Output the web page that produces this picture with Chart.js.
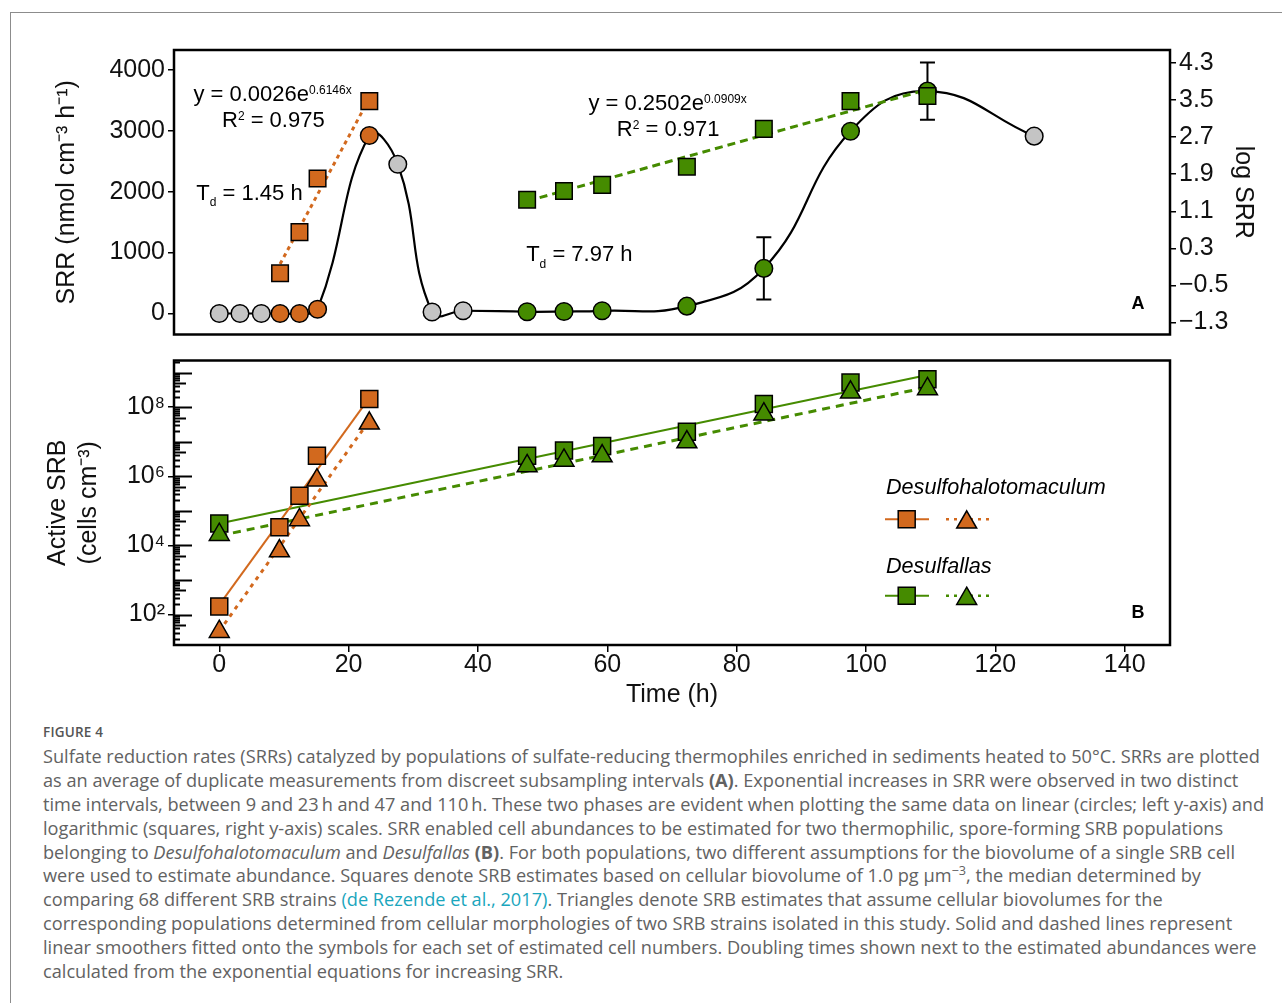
<!DOCTYPE html>
<html>
<head>
<meta charset="utf-8">
<title>Sulfate reduction rates and active SRB</title>
<script src="https://cdn.jsdelivr.net/npm/chart.js@4.4.1/dist/chart.umd.min.js"></script>
<style>
  html, body { margin: 0; padding: 0; background: #fff; }
  body { width: 1282px; height: 1003px; position: relative; overflow: hidden; }
  #frame { position: absolute; left: 10px; top: 12px; width: 1290px; height: 1000px;
           border-left: 1px solid #8c8c8c; border-top: 1px solid #8c8c8c; }
  canvas { position: absolute; left: 0; }
  #chartA { top: 0; }
  #chartB { top: 345px; }
  #caption { position: absolute; left: 43px; top: 721px; font-family: "Open Sans", sans-serif;
             color: #626262; font-size: 16.6px; line-height: 23.9px; white-space: nowrap; }
  #caption .fig { font-size: 13.5px; font-weight: 600; color: #555; letter-spacing: 0.2px; }
  #caption a { color: #1aa6bd; text-decoration: none; }
  #caption sup { font-size: 0.7em; line-height: 0; }
</style>
</head>
<body>
<div id="frame"></div>
<canvas id="chartA" width="1282" height="350"></canvas>
<canvas id="chartB" width="1282" height="370"></canvas>
<div id="caption">
  <div class="fig">FIGURE 4</div>
  <div id="line1">Sulfate reduction rates (SRRs) catalyzed by populations of sulfate-reducing thermophiles enriched in sediments heated to 50°C. SRRs are plotted</div>
  <div>as an average of duplicate measurements from discreet subsampling intervals <b>(A)</b>. Exponential increases in SRR were observed in two distinct</div>
  <div>time intervals, between 9 and 23&#8201;h and 47 and 110&#8201;h. These two phases are evident when plotting the same data on linear (circles; left y-axis) and</div>
  <div>logarithmic (squares, right y-axis) scales. SRR enabled cell abundances to be estimated for two thermophilic, spore-forming SRB populations</div>
  <div>belonging to <i>Desulfohalotomaculum</i> and <i>Desulfallas</i> <b>(B)</b>. For both populations, two different assumptions for the biovolume of a single SRB cell</div>
  <div>were used to estimate abundance. Squares denote SRB estimates based on cellular biovolume of 1.0 pg μm<sup>−3</sup>, the median determined by</div>
  <div>comparing 68 different SRB strains <a>(de Rezende et al., 2017)</a>. Triangles denote SRB estimates that assume cellular biovolumes for the</div>
  <div>corresponding populations determined from cellular morphologies of two SRB strains isolated in this study. Solid and dashed lines represent</div>
  <div>linear smoothers fitted onto the symbols for each set of estimated cell numbers. Doubling times shown next to the estimated abundances were</div>
  <div>calculated from the exponential equations for increasing SRR.</div>
</div>
<script>
// ---- shared axis values ----
const xMin = -7, xMax = 147;
const timeTicks = [0, 20, 40, 60, 80, 100, 120, 140];
const srrTicks = [0, 1000, 2000, 3000, 4000];
const logSrrTicks = [4.3, 3.5, 2.7, 1.9, 1.1, 0.3, -0.5, -1.3];
const cellTicks = [1e2, 1e4, 1e6, 1e8];

// ---- panel A: SRR circles (linear, left axis) ----
const timeA = [0, 3.2, 6.5, 9.4, 12.4, 15.2, 23.2, 27.6, 32.9, 37.7, 47.6, 53.3, 59.2, 72.3, 84.2, 97.6, 109.5, 126];
const srr   = [0, 0, 0, 0, 0, 70, 2920, 2450, 25, 45, 28, 32, 44, 120, 740, 2990, 3650, 2910];
const srrSd = [null, null, null, null, null, null, null, null, null, null, null, null, null, null, 510, null, 470, null];
const phase = ['none', 'none', 'none', 'dht', 'dht', 'dht', 'dht', 'none', 'none', 'none',
               'dfa', 'dfa', 'dfa', 'dfa', 'dfa', 'dfa', 'dfa', 'none'];

// ---- panel A: log SRR squares (right axis) ----
const timeDhtA = [9.4, 12.4, 15.2, 23.2];
const logSrrDht = [-0.24, 0.65, 1.81, 3.48];
const logSrrDhtFit = [-0.04, 3.54];
const timeDfaA = [47.6, 53.3, 59.2, 72.3, 84.2, 97.6, 109.5];
const logSrrDfa = [1.35, 1.54, 1.67, 2.06, 2.88, 3.48, 3.59];
const logSrrDfaFit = [1.32, 3.73];

// ---- panel B: active SRB (cells cm-3) ----
const timeDht = [0, 9.3, 12.4, 15.1, 23.2];
const dhtSquare = [171, 33800, 275000, 3.94e6, 1.72e8];
const dhtTriangle = [32, 6900, 54600, 7.74e5, 3.40e7];
const dhtSquareFit = [190, 1.86e8];
const dhtTriangleFit = [33, 4.07e7];
const timeDfa = [0, 47.6, 53.3, 59.2, 72.3, 84.2, 97.6, 109.5];
const dfaSquare = [42900, 3.94e6, 5.6e6, 7.57e6, 1.95e7, 1.24e8, 5.14e8, 6.38e8];
const dfaTriangle = [20400, 2.0e6, 2.87e6, 3.85e6, 9.77e6, 6.24e7, 2.69e8, 3.36e8];
const dfaSquareFit = [43150, 8.57e8];
const dfaTriangleFit = [19050, 3.78e8];

// ---- text labels in panel A (data coordinates, baseline) ----
const notesA = [
  { x: -4.0,  y: 3486, runs: [['y = 0.0026e'], ['0.6146x', 'sup']] },
  { x: 0.42,  y: 3055, runs: [['R'], ['2', 'sup'], [' = 0.975']] },
  { x: -3.55, y: 1865, runs: [['T'], ['d', 'sub'], [' = 1.45 h']] },
  { x: 57.08, y: 3336, runs: [['y = 0.2502e'], ['0.0909x', 'sup']] },
  { x: 61.47, y: 2919, runs: [['R'], ['2', 'sup'], [' = 0.971']] },
  { x: 47.45, y: 855,  runs: [['T'], ['d', 'sub'], [' = 7.97 h']] },
];

const ORANGE = '#d2691e';
const GREEN = '#458b00';
const GREY = '#c4c4c4';
const phaseColor = { none: GREY, dht: ORANGE, dfa: GREEN };
const FONT = '"Liberation Sans", Arial, Helvetica, sans-serif';

Chart.defaults.font.family = FONT;
Chart.defaults.color = '#000';

const xy = (xs, ys) => xs.map((x, i) => ({ x: x, y: ys[i] }));
const ends = (xs, ys) => [{ x: xs[0], y: ys[0] }, { x: xs[xs.length - 1], y: ys[1] }];
const SUP = { '0': '⁰', '1': '¹', '2': '²', '3': '³', '4': '⁴', '5': '⁵', '6': '⁶', '7': '⁷', '8': '⁸', '9': '⁹' };

function drawMarker(ctx, style, x, y, r, fill) {
  ctx.save();
  ctx.fillStyle = fill;
  ctx.strokeStyle = '#000';
  ctx.lineWidth = 1.5;
  ctx.beginPath();
  if (style === 'rect') {
    const s = r * Math.SQRT1_2;
    ctx.rect(x - s, y - s, 2 * s, 2 * s);
  } else {
    for (let k = 0; k < 3; k++) {
      const a = k * 2 * Math.PI / 3;
      const px = x + Math.sin(a) * r, py = y - Math.cos(a) * r;
      if (k === 0) ctx.moveTo(px, py); else ctx.lineTo(px, py);
    }
    ctx.closePath();
  }
  ctx.fill();
  ctx.stroke();
  ctx.restore();
}

// box around the plotting area + panel letter
const panelBox = {
  id: 'panelBox',
  afterDraw(chart, args, opts) {
    const { ctx, chartArea: a } = chart;
    ctx.save();
    ctx.lineWidth = 2.5;
    ctx.strokeStyle = '#000';
    ctx.strokeRect(a.left, a.top, a.right - a.left, a.bottom - a.top);
    ctx.font = 'bold 18px ' + FONT;
    ctx.fillStyle = '#000';
    ctx.textAlign = 'center';
    ctx.textBaseline = 'middle';
    ctx.fillText(opts.letter, a.right - 32, a.bottom - opts.letterDy);
    ctx.restore();
  }
};

// error bars on the SRR circles
const errorBars = {
  id: 'errorBars',
  beforeDatasetsDraw(chart) {
    const { ctx } = chart;
    const xs = chart.scales.x, ys = chart.scales.y;
    ctx.save();
    ctx.strokeStyle = '#000';
    ctx.lineWidth = 2;
    srrSd.forEach((sd, i) => {
      if (sd == null) return;
      const x = xs.getPixelForValue(timeA[i]);
      const y1 = ys.getPixelForValue(srr[i] - sd), y2 = ys.getPixelForValue(srr[i] + sd);
      ctx.beginPath();
      ctx.moveTo(x, y1); ctx.lineTo(x, y2);
      ctx.moveTo(x - 7.5, y1); ctx.lineTo(x + 7.5, y1);
      ctx.moveTo(x - 7.5, y2); ctx.lineTo(x + 7.5, y2);
      ctx.stroke();
    });
    ctx.restore();
  }
};

// equations and doubling times
const notes = {
  id: 'notes',
  afterDatasetsDraw(chart) {
    const { ctx } = chart;
    const xs = chart.scales.x, ys = chart.scales.y;
    ctx.save();
    ctx.fillStyle = '#000';
    ctx.textAlign = 'left';
    ctx.textBaseline = 'alphabetic';
    notesA.forEach(n => {
      let cx = xs.getPixelForValue(n.x);
      const by = ys.getPixelForValue(n.y);
      n.runs.forEach(([t, kind]) => {
        const size = kind ? 12 : 22;
        const dy = kind === 'sup' ? -7 : kind === 'sub' ? 6.5 : 0;
        ctx.font = size + 'px ' + FONT;
        ctx.fillText(t, cx, by + dy);
        cx += ctx.measureText(t).width;
      });
    });
    ctx.restore();
  }
};

// annotation_logticks style marks inside the left edge of panel B
const logTicks = {
  id: 'logTicks',
  afterDraw(chart) {
    const { ctx, chartArea: a } = chart;
    const ys = chart.scales.y;
    ctx.save();
    ctx.strokeStyle = '#000';
    ctx.lineWidth = 2;
    for (let d = 1; d <= 9; d++) {
      for (let m = 1; m <= 9; m++) {
        const v = m * Math.pow(10, d);
        if (v < ys.min || v > ys.max) continue;
        const y = Math.round(ys.getPixelForValue(v)) + 0.5;
        const len = m === 1 ? 18 : m === 5 ? 12 : 6;
        ctx.beginPath();
        ctx.moveTo(a.left, y);
        ctx.lineTo(a.left + len, y);
        ctx.stroke();
      }
    }
    ctx.restore();
  }
};

// grouped legend of panel B
const groupLegend = {
  id: 'groupLegend',
  afterDraw(chart) {
    const { ctx } = chart;
    const groups = [
      { title: 'Desulfohalotomaculum', color: ORANGE, titleY: 143, rowY: 174.3 },
      { title: 'Desulfallas', color: GREEN, titleY: 221.7, rowY: 250.7 },
    ];
    ctx.save();
    groups.forEach(g => {
      ctx.font = 'italic 21.6px ' + FONT;
      ctx.fillStyle = '#000';
      ctx.textAlign = 'left';
      ctx.textBaseline = 'middle';
      ctx.fillText(g.title, 886, g.titleY);
      ctx.strokeStyle = g.color;
      ctx.lineWidth = 2;
      ctx.setLineDash([]);
      ctx.beginPath(); ctx.moveTo(885, g.rowY); ctx.lineTo(929, g.rowY); ctx.stroke();
      ctx.lineWidth = 2.5;
      ctx.setLineDash([3, 5]);
      ctx.beginPath(); ctx.moveTo(946, g.rowY); ctx.lineTo(990, g.rowY); ctx.stroke();
      ctx.setLineDash([]);
      drawMarker(ctx, 'rect', 906.7, g.rowY, 12, g.color);
      drawMarker(ctx, 'triangle', 966.7, g.rowY + 3, 11.5, g.color);
    });
    ctx.restore();
  }
};

const tickGrid = { drawOnChartArea: false, color: '#000', tickColor: '#000', lineWidth: 1.5, tickLength: 6 };
const tickFont = { size: 25, lineHeight: 1 };
const titleFont = { size: 25 };

new Chart(document.getElementById('chartA'), {
  type: 'line',
  data: {
    datasets: [
      { label: 'log SRR Desulfohalotomaculum', data: xy(timeDhtA, logSrrDht), yAxisID: 'y2', showLine: false,
        pointStyle: 'rect', pointRadius: 11.7, pointBackgroundColor: ORANGE, pointBorderColor: '#000',
        pointBorderWidth: 1.5, order: 0 },
      { label: 'log SRR Desulfallas', data: xy(timeDfaA, logSrrDfa), yAxisID: 'y2', showLine: false,
        pointStyle: 'rect', pointRadius: 11.7, pointBackgroundColor: GREEN, pointBorderColor: '#000',
        pointBorderWidth: 1.5, order: 0 },
      { label: 'SRR', data: xy(timeA, srr), yAxisID: 'y', showLine: false, pointRadius: 8.8,
        pointBackgroundColor: phase.map(p => phaseColor[p]), pointBorderColor: '#000',
        pointBorderWidth: 1.5, order: 1 },
      { label: 'fit Desulfohalotomaculum', data: ends(timeDhtA, logSrrDhtFit), yAxisID: 'y2',
        borderColor: ORANGE, borderWidth: 3, borderDash: [4, 4], pointRadius: 0, order: 2 },
      { label: 'fit Desulfallas', data: ends(timeDfaA, logSrrDfaFit), yAxisID: 'y2',
        borderColor: GREEN, borderWidth: 3, borderDash: [8, 5], pointRadius: 0, order: 2 },
      { label: 'SRR smooth', data: xy(timeA, srr), yAxisID: 'y', borderColor: '#000', borderWidth: 2.2,
        tension: 0.45, pointRadius: 0, order: 3 },
    ]
  },
  options: {
    responsive: false, animation: false, devicePixelRatio: 1, events: [],
    layout: { padding: { left: 0, right: 0, top: 50, bottom: 12 } },
    plugins: { legend: { display: false }, tooltip: { enabled: false }, panelBox: { letter: 'A', letterDy: 30 } },
    scales: {
      x: { type: 'linear', min: xMin, max: xMax, display: false },
      y: {
        type: 'linear', position: 'left', min: -345, max: 4324,
        afterBuildTicks: s => { s.ticks = srrTicks.map(v => ({ value: v })); },
        afterFit: s => { s.width = 174; },
        grid: tickGrid, border: { display: false },
        ticks: { font: tickFont, padding: 3, color: '#111', callback: v => String(v) },
        title: { display: true, text: 'SRR (nmol cm⁻³ h⁻¹)', font: titleFont, color: '#111', padding: { top: 52, bottom: 0 } }
      },
      y2: {
        type: 'linear', position: 'right', min: -1.562, max: 4.584,
        afterBuildTicks: s => { s.ticks = logSrrTicks.map(v => ({ value: v })); },
        afterFit: s => { s.width = 112; },
        grid: tickGrid, border: { display: false },
        ticks: { font: tickFont, padding: 3, color: '#111', callback: v => (v < 0 ? '−' : '') + Math.abs(v).toFixed(1) },
        title: { display: true, text: 'log SRR', font: titleFont, color: '#111', padding: { top: 24, bottom: 0 } }
      }
    }
  },
  plugins: [errorBars, notes, panelBox]
});

new Chart(document.getElementById('chartB'), {
  type: 'line',
  data: {
    datasets: [
      { label: 'Desulfohalotomaculum triangles', data: xy(timeDht, dhtTriangle), showLine: false,
        pointStyle: 'triangle', pointRadius: 11.5, pointBackgroundColor: ORANGE, pointBorderColor: '#000',
        pointBorderWidth: 1.5, order: 0 },
      { label: 'Desulfallas triangles', data: xy(timeDfa, dfaTriangle), showLine: false,
        pointStyle: 'triangle', pointRadius: 11.5, pointBackgroundColor: GREEN, pointBorderColor: '#000',
        pointBorderWidth: 1.5, order: 0 },
      { label: 'Desulfohalotomaculum squares', data: xy(timeDht, dhtSquare), showLine: false,
        pointStyle: 'rect', pointRadius: 12, pointBackgroundColor: ORANGE, pointBorderColor: '#000',
        pointBorderWidth: 1.5, order: 1 },
      { label: 'Desulfallas squares', data: xy(timeDfa, dfaSquare), showLine: false,
        pointStyle: 'rect', pointRadius: 12, pointBackgroundColor: GREEN, pointBorderColor: '#000',
        pointBorderWidth: 1.5, order: 1 },
      { label: 'fit Desulfohalotomaculum squares', data: ends(timeDht, dhtSquareFit),
        borderColor: ORANGE, borderWidth: 2, pointRadius: 0, order: 2 },
      { label: 'fit Desulfohalotomaculum triangles', data: ends(timeDht, dhtTriangleFit),
        borderColor: ORANGE, borderWidth: 3, borderDash: [4, 5], pointRadius: 0, order: 2 },
      { label: 'fit Desulfallas squares', data: ends(timeDfa, dfaSquareFit),
        borderColor: GREEN, borderWidth: 2, pointRadius: 0, order: 2 },
      { label: 'fit Desulfallas triangles', data: ends(timeDfa, dfaTriangleFit),
        borderColor: GREEN, borderWidth: 3, borderDash: [8, 6], pointRadius: 0, order: 2 },
    ]
  },
  options: {
    responsive: false, animation: false, devicePixelRatio: 1, events: [],
    layout: { padding: { left: 0, right: 112, top: 11, bottom: 0 } },
    plugins: { legend: { display: false }, tooltip: { enabled: false }, panelBox: { letter: 'B', letterDy: 31.7 } },
    scales: {
      x: {
        type: 'linear', min: xMin, max: xMax,
        afterBuildTicks: s => { s.ticks = timeTicks.map(v => ({ value: v })); },
        afterFit: s => { s.height = 70; },
        grid: Object.assign({}, tickGrid, { tickLength: 7 }), border: { display: false },
        ticks: { font: tickFont, padding: 0.5, color: '#111', maxRotation: 0 },
        title: { display: true, text: 'Time (h)', font: titleFont, color: '#111', padding: { top: 0, bottom: 5 } }
      },
      y: {
        type: 'logarithmic', position: 'left', min: 13.18, max: 2.239e9,
        afterBuildTicks: s => { s.ticks = cellTicks.map(v => ({ value: v })); },
        afterFit: s => { s.width = 174; },
        grid: tickGrid, border: { display: false },
        ticks: { font: tickFont, padding: 3, color: '#111',
                 callback: v => '10' + String(Math.round(Math.log10(v))).split('').map(c => SUP[c]).join('') },
        title: { display: true, text: ['Active SRB', '(cells cm⁻³)'], font: { size: 25, lineHeight: 1.24 },
                 color: '#111', padding: { top: 42.5, bottom: 0 } }
      }
    }
  },
  plugins: [logTicks, groupLegend, panelBox]
});

// fit the caption size so the first line spans the same width as in the figure page
(function () {
  const cap = document.getElementById('caption');
  const line = document.getElementById('line1');
  const span = document.createElement('span');
  span.innerHTML = line.innerHTML;
  line.innerHTML = '';
  line.appendChild(span);
  const w = span.getBoundingClientRect().width;
  const base = parseFloat(getComputedStyle(cap).fontSize);
  cap.style.fontSize = (base * 1217 / w).toFixed(2) + 'px';
})();
</script>
</body>
</html>
